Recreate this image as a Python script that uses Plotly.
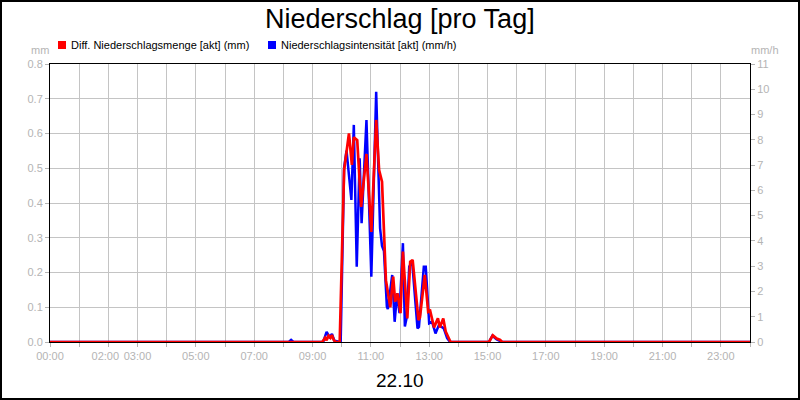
import plotly.graph_objects as go

# ---------------- data ----------------
blue_times = ["00:00", "08:11", "08:16", "08:21", "09:22", "09:29", "09:35", "09:40", "09:45", "09:58",
              "10:05", "10:10", "10:20", "10:25", "10:31", "10:37", "10:41", "10:51", "11:01", "11:11",
              "11:16", "11:19", "11:23", "11:27", "11:33", "11:35", "11:44", "11:49", "11:54", "11:59",
              "12:06", "12:10", "12:14", "12:19", "12:25", "12:36", "12:39", "12:49", "12:53", "13:00",
              "13:06", "13:13", "13:20", "13:30", "13:37", "13:43", "15:03", "15:10", "15:19", "15:26",
              "15:30", "24:00"]
blue_vals = [0, 0, 0.08, 0, 0, 0.40, 0.2, 0.32, 0.05, 0,
             6.9, 7.57, 5.62, 8.59, 2.98, 7.27, 4.70, 8.78, 2.58, 9.9,
             6.5, 4.5, 3.8, 3.6, 1.4, 1.3, 2.65, 0.8, 1.93, 1.14,
             3.91, 0.61, 1.0, 2.98, 3.18, 0.54, 0.6, 2.98, 2.98, 0.74,
             0.8, 0.34, 0.67, 0.54, 0.15, 0, 0, 0.25, 0.1, 0.05,
             0, 0]

red_times = ["00:00", "09:20", "09:26", "09:29", "09:33", "09:37", "09:40", "09:44", "09:48", "09:56",
             "10:05", "10:15", "10:21", "10:25", "10:32", "10:40", "10:51", "11:01", "11:11", "11:17",
             "11:23", "11:31", "11:40", "11:46", "11:50", "11:55", "12:01", "12:06", "12:15", "12:21",
             "12:26", "12:38", "12:41", "12:51", "12:58", "13:02", "13:10", "13:18", "13:22", "13:29",
             "13:34", "13:44", "15:03", "15:11", "15:19", "15:26", "15:30", "24:00"]
red_vals = [0, 0, 0.012, 0.005, 0.018, 0.012, 0.02, 0.005, 0, 0,
            0.495, 0.60, 0.51, 0.589, 0.581, 0.389, 0.541, 0.317, 0.639, 0.495,
            0.461, 0.178, 0.10, 0.188, 0.116, 0.14, 0.083, 0.26, 0.068, 0.231,
            0.236, 0.063, 0.07, 0.193, 0.087, 0.09, 0.042, 0.068, 0.042, 0.068,
            0.03, 0, 0, 0.019, 0.01, 0.006, 0, 0]

hour_ticks = list(range(25))
hour_labels = ["00:00", "", "02:00\u00a0\u00a0", "03:00", "", "05:00", "", "07:00", "", "09:00", "", "11:00", "",
               "13:00", "", "15:00", "", "17:00", "", "19:00", "", "21:00", "", "23:00", ""]
left_ticks = [0.0, 0.1, 0.2, 0.3, 0.4, 0.5, 0.6, 0.7, 0.8]
right_ticks = list(range(12))

title_text = "Niederschlag [pro Tag]"
date_text = "22.10"
red_name = "Diff. Niederschlagsmenge [akt] (mm)"
blue_name = "Niederschlagsintensität [akt] (mm/h)"


def to_hours(t):
    h, m = t.split(":")
    return int(h) + int(m) / 60.0


blue_x = [to_hours(t) for t in blue_times]
red_x = [to_hours(t) for t in red_times]

FONT = "Liberation Sans, Arial, sans-serif"
GRAY = "#b4b4b4"
GRID = "#c4c4c4"

# plot area in pixels
L, R, T, B = 50, 750, 64, 342


def px(xp):
    return (xp - L) / (R - L)


def py(yp):
    return (B - yp) / (B - T)


fig = go.Figure()
fig.add_trace(go.Scatter(x=blue_x, y=blue_vals, mode="lines", yaxis="y",
                         line=dict(color="#0000FF", width=2.5), name=blue_name, showlegend=False))
fig.add_trace(go.Scatter(x=red_x, y=red_vals, mode="lines", yaxis="y2",
                         line=dict(color="#FF0000", width=2.7), name=red_name, showlegend=False))

fig.update_layout(
    width=800, height=400,
    margin=dict(l=L, r=800 - R, t=T, b=400 - B, pad=0, autoexpand=False),
    paper_bgcolor="white", plot_bgcolor="white",
    font=dict(family=FONT, size=11, color=GRAY),
    xaxis=dict(range=[0, 24], tickvals=hour_ticks, ticktext=hour_labels, tickangle=0,
               showgrid=True, gridcolor=GRID, gridwidth=1, zeroline=False,
               ticks="outside", ticklen=4, tickcolor=GRAY,
               showline=True, linecolor="black", linewidth=1, mirror=True,
               tickfont=dict(size=11, color=GRAY, family=FONT)),
    yaxis=dict(range=[0, 11], side="right", tickvals=right_ticks,
               showgrid=False, zeroline=False,
               ticks="outside", ticklen=4, tickcolor=GRAY,
               showline=True, linecolor="black", linewidth=1,
               tickfont=dict(size=11, color=GRAY, family=FONT)),
    yaxis2=dict(range=[0, 0.8], side="left", overlaying="y", tickvals=left_ticks,
                tickformat=".1f", showgrid=True, gridcolor=GRID, gridwidth=1, zeroline=False,
                ticks="outside", ticklen=4, tickcolor=GRAY,
                showline=True, linecolor="black", linewidth=1,
                tickfont=dict(size=11, color=GRAY, family=FONT)),
)

annotations = [
    dict(text=title_text, x=0.5, y=py(19), xref="paper", yref="paper", showarrow=False,
         xanchor="center", yanchor="middle", font=dict(size=27, color="black", family=FONT)),
    dict(text=date_text, x=0.5, y=py(380), xref="paper", yref="paper", showarrow=False,
         xanchor="center", yanchor="middle", font=dict(size=19, color="black", family=FONT)),
    dict(text=red_name, x=px(69), y=py(44.5), xref="paper", yref="paper", showarrow=False,
         xanchor="left", yanchor="middle", font=dict(size=11, color="black", family=FONT)),
    dict(text=blue_name, x=px(279), y=py(44.5), xref="paper", yref="paper", showarrow=False,
         xanchor="left", yanchor="middle", font=dict(size=11, color="black", family=FONT)),
    dict(text="mm", x=px(40), y=py(49.5), xref="paper", yref="paper", showarrow=False,
         xanchor="center", yanchor="middle", font=dict(size=11, color=GRAY, family=FONT)),
    dict(text="mm/h", x=px(765), y=py(49.5), xref="paper", yref="paper", showarrow=False,
         xanchor="center", yanchor="middle", font=dict(size=11, color=GRAY, family=FONT)),
]
fig.update_layout(annotations=annotations)

shapes = [
    dict(type="rect", xref="paper", yref="paper", x0=px(58), x1=px(66), y0=py(49), y1=py(41),
         fillcolor="#FF0000", line=dict(width=0)),
    dict(type="rect", xref="paper", yref="paper", x0=px(268), x1=px(276), y0=py(49), y1=py(41),
         fillcolor="#0000FF", line=dict(width=0)),
    dict(type="rect", xref="paper", yref="paper", x0=px(1), x1=px(799), y0=py(399), y1=py(1),
         fillcolor="rgba(0,0,0,0)", line=dict(width=2, color="black")),
]
fig.update_layout(shapes=shapes)

fig.write_html("out.html", config={"displayModeBar": False},
               post_script="document.body.style.margin='0';document.body.style.padding='0';")
